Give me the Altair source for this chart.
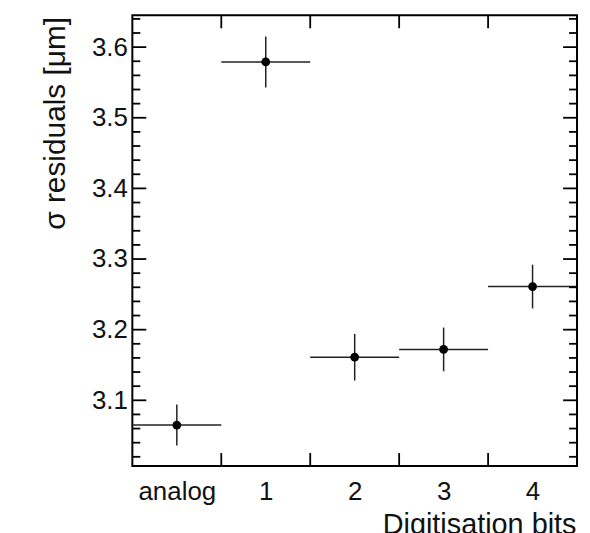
import json
import altair as alt
import pandas as pd

# ---- data ----
categories = ["analog", "1", "2", "3", "4"]
sigma = [3.065, 3.579, 3.161, 3.172, 3.261]
sigma_err = [0.029, 0.036, 0.033, 0.031, 0.031]

y_major = [3.1, 3.2, 3.3, 3.4, 3.5, 3.6]
y_minor = [3.02, 3.04, 3.06, 3.08, 3.12, 3.14, 3.16, 3.18, 3.22, 3.24, 3.26, 3.28,
           3.32, 3.34, 3.36, 3.38, 3.42, 3.44, 3.46, 3.48, 3.52, 3.54, 3.56, 3.58,
           3.62, 3.64]
x_edges = [1, 2, 3, 4]
x_centers = [0.5, 1.5, 2.5, 3.5, 4.5]

W, H = 447, 453
FONT = "Liberation Sans"

df = pd.DataFrame({
    "cat": categories,
    "c": x_centers,
    "lo": [c - 0.5 for c in x_centers],
    "hi": [c + 0.5 for c in x_centers],
    "v": sigma,
    "ylo": [v - e for v, e in zip(sigma, sigma_err)],
    "yhi": [v + e for v, e in zip(sigma, sigma_err)],
})

xscale = alt.Scale(domain=[0, 5], nice=False, zero=False)
yscale = alt.Scale(domain=[3.007, 3.645], nice=False, zero=False)

label_expr = "%s[floor(datum.value)]" % json.dumps(categories).replace('"', "'")

xaxis = alt.Axis(values=x_centers, labelExpr=label_expr, ticks=False, domain=False, grid=False,
                 labelFontSize=26, labelPadding=13, labelColor="#111111", labelFont=FONT,
                 title="Digitisation bits", titleFontSize=29, titleFontWeight="normal",
                 titleFont=FONT, titleColor="#111111", titleX=W - 1, titleY=68,
                 titleAlign="right", titleBaseline="alphabetic")
yaxis = alt.Axis(values=y_major, format=".1f", ticks=False, domain=False, grid=False,
                 labelFontSize=26, labelPadding=5, labelColor="#111111", labelFont=FONT,
                 title="σ residuals [μm]", titleFontSize=30, titleFontWeight="normal",
                 titleFont=FONT, titleColor="#111111", titleAngle=270, titleX=-68, titleY=1,
                 titleAlign="right", titleBaseline="alphabetic")

base = alt.Chart(df)

hbar = base.mark_rule(color="#222222", strokeWidth=1.5).encode(
    x=alt.X("lo:Q", scale=xscale, axis=xaxis), x2="hi:Q",
    y=alt.Y("v:Q", scale=yscale, axis=yaxis))
vbar = base.mark_rule(color="#222222", strokeWidth=1.5).encode(
    x=alt.X("c:Q", scale=xscale), y=alt.Y("ylo:Q", scale=yscale), y2="yhi:Q")
pts = base.mark_circle(size=78, color="black", opacity=1).encode(
    x=alt.X("c:Q", scale=xscale), y=alt.Y("v:Q", scale=yscale))

ymaj = alt.Chart(pd.DataFrame({"t": y_major}))
ymin = alt.Chart(pd.DataFrame({"t": y_minor}))
xt = alt.Chart(pd.DataFrame({"t": x_edges}))

tick_style = dict(color="black", strokeWidth=1.8)
ticks = [
    ymaj.mark_rule(**tick_style).encode(y=alt.Y("t:Q", scale=yscale), x=alt.value(0), x2=alt.value(14)),
    ymaj.mark_rule(**tick_style).encode(y=alt.Y("t:Q", scale=yscale), x=alt.value(W - 14), x2=alt.value(W)),
    ymin.mark_rule(**tick_style).encode(y=alt.Y("t:Q", scale=yscale), x=alt.value(0), x2=alt.value(8)),
    ymin.mark_rule(**tick_style).encode(y=alt.Y("t:Q", scale=yscale), x=alt.value(W - 8), x2=alt.value(W)),
    xt.mark_rule(**tick_style).encode(x=alt.X("t:Q", scale=xscale), y=alt.value(H - 13), y2=alt.value(H)),
    xt.mark_rule(**tick_style).encode(x=alt.X("t:Q", scale=xscale), y=alt.value(0), y2=alt.value(13)),
]

chart = alt.layer(hbar, vbar, pts, *ticks).properties(
    width=W, height=H,
    autosize=alt.AutoSizeParams(type="none"),
    padding={"left": 125, "top": 6, "right": 5, "bottom": 72},
    background="white",
).configure_view(stroke="black", strokeWidth=2)

chart.save("out.html", embed_options={"renderer": "svg", "actions": False})
